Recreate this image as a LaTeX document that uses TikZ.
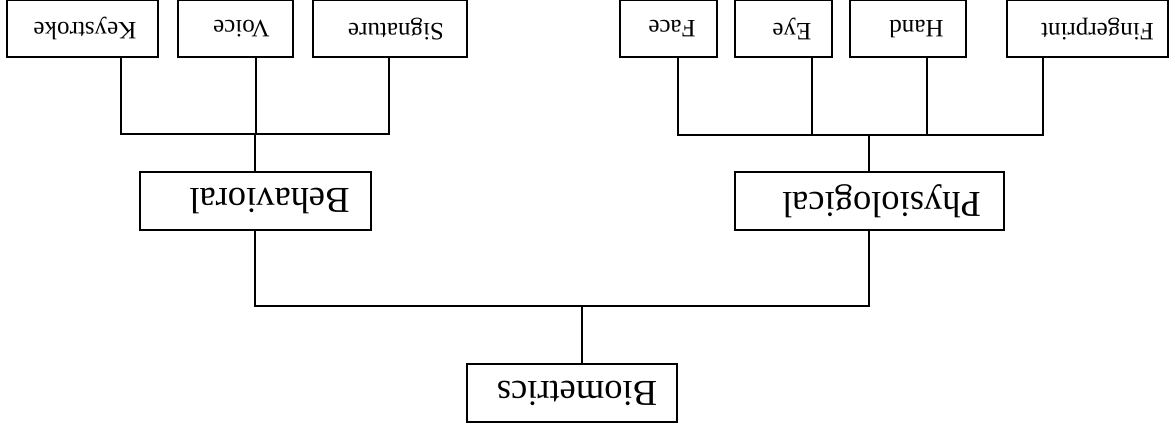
\documentclass[tikz,border=0pt]{standalone}
\usepackage{fontspec}
\setmainfont{Liberation Serif}
% text placed off-centre inside its box: trailing space of the given width
\newcommand{\padtext}[2]{#2\hspace*{#1}}
\begin{document}
\begin{tikzpicture}[x=1pt,y=-1pt,
  wire/.style={line width=1.6pt, line cap=rect},
  box/.style={draw, line width=1.6pt, rotate=180, inner sep=0pt},
  leaf/.style={box, minimum height=56.5pt, font=\fontsize{25}{28}\selectfont},
  group/.style={box, minimum height=58pt, font=\fontsize{36.5}{40}\selectfont}]
\useasboundingbox (0,0) rectangle (1175,429);

% the tree is drawn turned half a revolution
\node[group, minimum width=210pt] (bio) at (572,393) {\padtext{10pt}{Biometrics}};
\node[group, minimum width=231pt] (beh) at (255.5,201) {\padtext{28pt}{Behavioral}};
\node[group, minimum width=269pt] (phy) at (869.5,201) {\padtext{24pt}{Physiological}};

\node[leaf, minimum width=151pt] (key) at (82.5,28.75) {\padtext{5pt}{Keystroke}};
\node[leaf, minimum width=115pt] (voi) at (235.5,28.75) {\padtext{12pt}{Voice}};
\node[leaf, minimum width=154pt] (sig) at (390,28.75) {\padtext{12pt}{Signature}};
\node[leaf, minimum width=97pt]  (fac) at (668.5,28.75) {\padtext{7pt}{Face}};
\node[leaf, minimum width=97pt]  (eye) at (783.5,28.75) {\padtext{17pt}{Eye}};
\node[leaf, minimum width=116pt] (han) at (908,28.75) {\padtext{17pt}{Hand}};
\node[leaf, minimum width=161pt] (fin) at (1087.5,28.75) {\padtext{20pt}{Fingerprint}};

% junction points
\coordinate (root) at (582,306);
\coordinate (lb) at (255,306);
\coordinate (lp) at (869,306);
\coordinate (ub) at (255,134);
\coordinate (up) at (869,135);
\coordinate (bk) at (121,134);
\coordinate (bv) at (256,134);
\coordinate (bs) at (389,134);
\coordinate (bf) at (678,135);
\coordinate (be) at (812,135);
\coordinate (bh) at (927,135);
\coordinate (bp) at (1043,135);

% root to the two groups
\draw[wire] (beh.north -| lb) -- (lb) -- (lp) -- (phy.north -| lp);
\draw[wire] (root) -- (bio.south -| root);

% behavioral branch
\draw[wire] (beh.south -| ub) -- (ub);
\draw[wire] (bk) -- (bs);
\draw[wire] (bk) -- (key.north -| bk);
\draw[wire] (bv) -- (voi.north -| bv);
\draw[wire] (bs) -- (sig.north -| bs);

% physiological branch
\draw[wire] (phy.south -| up) -- (up);
\draw[wire] (bf) -- (bp);
\draw[wire] (bf) -- (fac.north -| bf);
\draw[wire] (be) -- (eye.north -| be);
\draw[wire] (bh) -- (han.north -| bh);
\draw[wire] (bp) -- (fin.north -| bp);
\end{tikzpicture}
\end{document}
